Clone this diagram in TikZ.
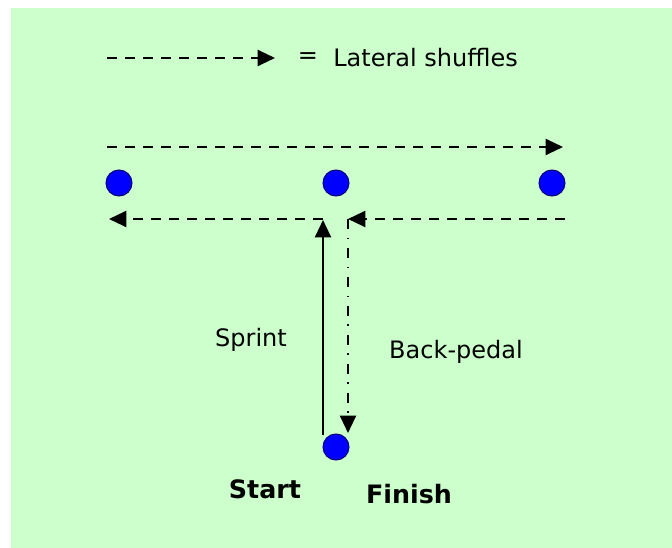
\documentclass[tikz,border=0pt]{standalone}
\usepackage{fontspec}
\setmainfont{DejaVu Sans}
\usetikzlibrary{arrows.meta}
\definecolor{bggreen}{HTML}{CCFFCC}
\definecolor{dotblue}{HTML}{0000FF}
\definecolor{dotedge}{HTML}{00007A}
\begin{document}
\begin{tikzpicture}[x=0.75pt,y=-0.75pt,
  cone/.style={circle,fill=dotblue,draw=dotedge,line width=0.8pt,minimum size=19.5pt,inner sep=0pt},
  tipstyle/.style={-{Triangle[length=13pt,width=12pt]}},
  shuffle/.style={line width=1.6pt,dash pattern=on 7.5pt off 6pt,tipstyle},
  sprintline/.style={line width=1.6pt,tipstyle},
  backpedal/.style={line width=1.6pt,dash pattern=on 7.5pt off 6.5pt on 1.2pt off 6.5pt,tipstyle},
  lbl/.style={font=\fontsize{18}{21}\selectfont,inner sep=0pt},
  blbl/.style={font=\fontsize{19}{22}\selectfont\bfseries,inner sep=0pt}]
\useasboundingbox (0,0) rectangle (672,548);
\fill[bggreen] (11,8) rectangle (672,548);

% legend
\coordinate (l1) at (107,58);
\coordinate (l2) at (275,58);
\draw[shuffle] (l1) -- (l2);
\node[lbl] (eq) at (308,58) {=};
\node[lbl,anchor=west] (leg) at (333,58) {Lateral shuffles};

% cones
\node[cone] (p1) at (119,183) {};
\node[cone] (p2) at (336,183) {};
\node[cone] (p3) at (552,183) {};
\node[cone] (ps) at (336,447) {};

% shuffles
\coordinate (t1) at (107,147);
\coordinate (t2) at (563,147);
\draw[shuffle] (t1) -- (t2);
\coordinate (a1) at (323,219);
\coordinate (a2) at (109,219);
\draw[shuffle] (a1) -- (a2);
\coordinate (b1) at (565,219);
\coordinate (b2) at (348,219);
\draw[shuffle] (b1) -- (b2);

% sprint and back-pedal
\coordinate (s1) at (323,435);
\coordinate (s2) at (323,220);
\draw[sprintline] (s1) -- (s2);
\coordinate (k1) at (348,219);
\coordinate (k2) at (348,433);
\draw[backpedal] (k1) -- (k2);

% labels
\node[lbl] (sp) at (251,340) {Sprint};
\node[lbl] (bp) at (456,352) {Back-pedal};
\node[blbl] (st) at (265,489) {Start};
\node[blbl] (fi) at (409,494) {Finish};
\end{tikzpicture}
\end{document}
